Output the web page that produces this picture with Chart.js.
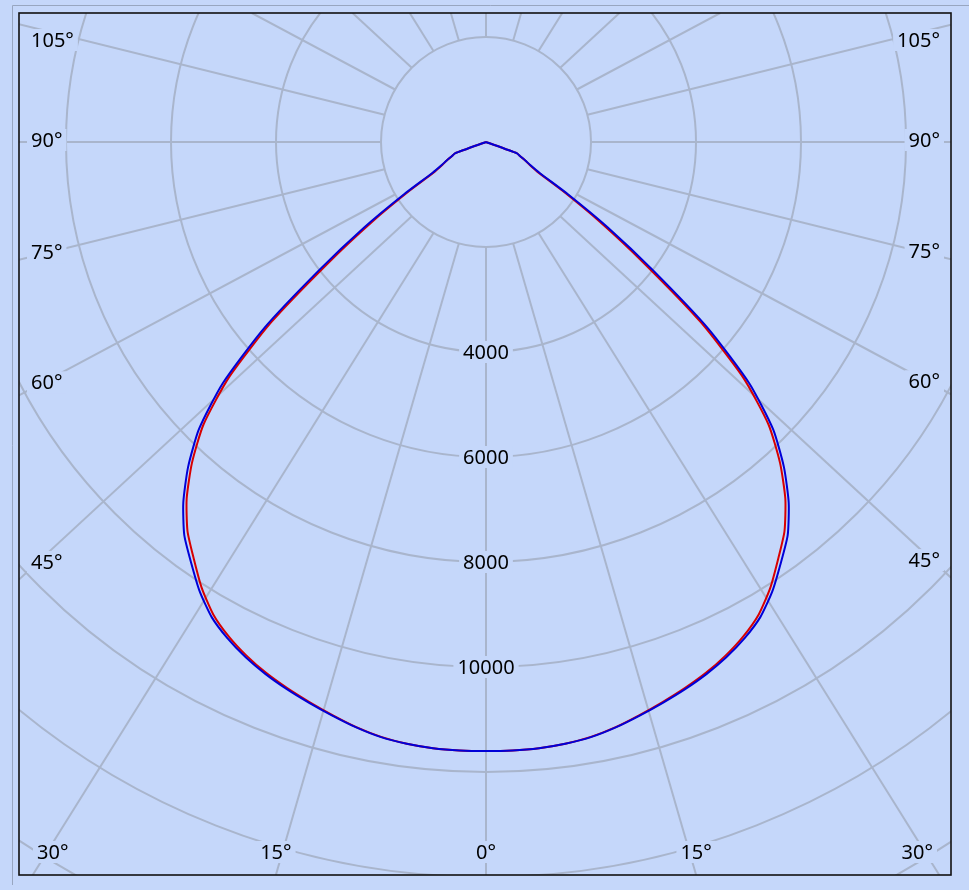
<!DOCTYPE html>
<html>
<head>
<meta charset="utf-8">
<title>Luminous intensity distribution</title>
<script src="https://cdn.jsdelivr.net/npm/chart.js@4.4.1/dist/chart.umd.min.js"></script>
<style>
  html, body { margin: 0; padding: 0; background: #c5d7fa; }
  canvas { display: block; }
</style>
</head>
<body>
<canvas id="ldcChart" width="969" height="890"></canvas>
<script>
// gamma angles in degrees, negative = left half of the plane
const angles = [-75, -72.5, -70, -67.5, -65, -62.5, -60, -57.5, -55, -52.5, -50, -47.5, -45, -42.5, -40, -37.5,
  -35, -32.5, -30, -27.5, -25, -22.5, -20, -17.5, -15, -12.5, -10, -7.5, -5, -2.5,
  0,
  2.5, 5, 7.5, 10, 12.5, 15, 17.5, 20, 22.5, 25, 27.5, 30, 32.5, 35, 37.5,
  40, 42.5, 45, 47.5, 50, 52.5, 55, 57.5, 60, 62.5, 65, 67.5, 70, 72.5, 75];

// intensities in cd
const planeBlue = [0, 0, 630, 700, 820, 950, 1180, 1850, 2820, 4000, 5520, 6800, 7730, 8400, 8970, 9440,
  9790, 10150, 10450, 10660, 10830, 10970, 11090, 11200, 11310, 11420, 11510, 11560, 11590, 11600,
  11600,
  11600, 11590, 11560, 11510, 11420, 11310, 11200, 11090, 10970, 10830, 10660, 10450, 10150, 9790, 9440,
  8970, 8400, 7730, 6800, 5520, 4000, 2820, 1850, 1180, 950, 820, 700, 630, 0, 0];
const planeRed = [0, 0, 630, 700, 820, 930, 1120, 1730, 2640, 3800, 5340, 6650, 7610, 8290, 8870, 9340,
  9700, 10075, 10390, 10615, 10795, 10945, 11070, 11185, 11300, 11415, 11505, 11560, 11590, 11600,
  11600,
  11600, 11590, 11560, 11505, 11415, 11300, 11185, 11070, 10945, 10795, 10615, 10390, 10075, 9700, 9340,
  8870, 8290, 7610, 6650, 5340, 3800, 2640, 1730, 1120, 930, 820, 700, 630, 0, 0];

const ringValues = [2000, 4000, 6000, 8000, 10000, 12000, 14000, 16000, 18000];
const ringLabels = [4000, 6000, 8000, 10000];
const spokeAngles = [0, 15, 30, 45, 60, 75, 90, 105, 120, 135, 150, 165, 180,
  -165, -150, -135, -120, -105, -90, -75, -60, -45, -30, -15];
const angleLabels = [0, 15, 30, 45, 60, 75, 90, 105];

const BG = "#c5d7fa";
const GRID = "#a9b5cc";
const FONT = "20px 'Noto Sans', sans-serif";

// 105 px for every 2000 cd, pole at (486, 142)
const pxPerCd = 105 / 2000;
const pad = { left: 19, top: 13, right: 18, bottom: 15 };
const pole = { x: 486, y: 142 };

const toXY = (vals) => angles.map((a, i) => {
  const t = a * Math.PI / 180;
  return { x: vals[i] * Math.sin(t), y: -vals[i] * Math.cos(t) };
});

function labelBox(ctx, text, x, y, align) {
  ctx.font = FONT;
  const w = ctx.measureText(text).width;
  let left = x - w / 2;
  if (align === "left") left = x;
  if (align === "right") left = x - w;
  ctx.fillStyle = BG;
  ctx.fillRect(left - 4, y - 11, w + 8, 22);
  ctx.fillStyle = "#000";
  ctx.textAlign = "left";
  ctx.textBaseline = "middle";
  ctx.fillText(text, left, y + 1);
}

const polarGrid = {
  id: "polarGrid",
  beforeDraw(chart) {
    const ctx = chart.ctx;
    ctx.save();
    ctx.fillStyle = BG;
    ctx.fillRect(0, 0, chart.width, chart.height);
    ctx.strokeStyle = "#98a6c0";
    ctx.lineWidth = 1;
    ctx.beginPath();
    ctx.moveTo(12.5, 885);
    ctx.lineTo(12.5, 5.5);
    ctx.lineTo(chart.width, 5.5);
    ctx.stroke();
    ctx.restore();
  },
  beforeDatasetsDraw(chart) {
    const ctx = chart.ctx;
    const area = chart.chartArea;
    const xs = chart.scales.x, ys = chart.scales.y;
    const cx = xs.getPixelForValue(0), cy = ys.getPixelForValue(0);
    const unit = (xs.getPixelForValue(1000) - cx) / 1000;
    const k = area.width / area.height;
    const r0 = ringValues[0] * unit;

    ctx.save();
    ctx.beginPath();
    ctx.rect(area.left, area.top, area.width, area.height);
    ctx.clip();
    ctx.strokeStyle = GRID;
    ctx.lineWidth = 2;

    ringValues.forEach(v => {
      ctx.beginPath();
      ctx.arc(cx, cy, v * unit, 0, Math.PI * 2);
      ctx.stroke();
    });

    const hits = {};
    spokeAngles.forEach(a => {
      const t = a * Math.PI / 180;
      const p0 = { x: cx + r0 * Math.sin(t), y: cy + r0 * Math.cos(t) };
      const d = { x: k * Math.sin(t), y: Math.cos(t) };
      let best = Infinity, edge = null;
      if (d.x < -1e-9) { const s = (area.left - p0.x) / d.x; if (s < best) { best = s; edge = "left"; } }
      if (d.x > 1e-9) { const s = (area.right - p0.x) / d.x; if (s < best) { best = s; edge = "right"; } }
      if (d.y > 1e-9) { const s = (area.bottom - p0.y) / d.y; if (s < best) { best = s; edge = "bottom"; } }
      if (d.y < -1e-9) { const s = (area.top - p0.y) / d.y; if (s < best) { best = s; edge = "top"; } }
      ctx.beginPath();
      ctx.moveTo(p0.x, p0.y);
      ctx.lineTo(p0.x + d.x * best, p0.y + d.y * best);
      ctx.stroke();
      hits[a] = { x: p0.x + d.x * best, y: p0.y + d.y * best, edge: edge, cos: Math.cos(t) };
    });

    // angle labels where the spokes leave the frame
    angleLabels.forEach(a => {
      [a, -a].forEach((s, j) => {
        if (a === 0 && j === 1) return;
        const h = hits[s];
        const text = a + "°";
        ctx.font = FONT;
        const w = ctx.measureText(text).width;
        if (h.edge === "bottom") {
          const x = Math.min(Math.max(h.x, area.left + 18 + w / 2), area.right - 18 - w / 2);
          labelBox(ctx, text, x, area.bottom - 23, "center");
        } else {
          let y = h.y - 22 * h.cos - 2;
          y = Math.min(Math.max(y, area.top + 27), area.bottom - 27);
          if (h.edge === "left") labelBox(ctx, text, area.left + 12, y, "left");
          else labelBox(ctx, text, area.right - 11, y, "right");
        }
      });
    });

    ringLabels.forEach(v => {
      labelBox(ctx, String(v), cx, ys.getPixelForValue(-v), "center");
    });
    ctx.restore();
  },
  afterDraw(chart) {
    const ctx = chart.ctx;
    const area = chart.chartArea;
    ctx.save();
    ctx.strokeStyle = "#111";
    ctx.lineWidth = 1.6;
    ctx.strokeRect(area.left, area.top, area.width, area.height);
    ctx.restore();
  }
};

const chartW = 969 - pad.left - pad.right;
const chartH = 890 - pad.top - pad.bottom;

new Chart(document.getElementById("ldcChart").getContext("2d"), {
  type: "scatter",
  data: {
    datasets: [
      {
        label: "C90 - C270",
        data: toXY(planeBlue),
        showLine: true,
        borderColor: "#0000d8",
        borderWidth: 2,
        pointRadius: 0,
        tension: 0.2
      },
      {
        label: "C0 - C180",
        data: toXY(planeRed),
        showLine: true,
        borderColor: "#d80000",
        borderWidth: 2,
        pointRadius: 0,
        tension: 0.2
      }
    ]
  },
  options: {
    responsive: false,
    devicePixelRatio: 1,
    animation: false,
    layout: { padding: pad },
    plugins: { legend: { display: false }, tooltip: { enabled: false } },
    scales: {
      x: {
        display: false,
        min: -(pole.x - pad.left) / pxPerCd,
        max: (pad.left + chartW - pole.x) / pxPerCd
      },
      y: {
        display: false,
        min: -(pad.top + chartH - pole.y) / pxPerCd,
        max: (pole.y - pad.top) / pxPerCd
      }
    }
  },
  plugins: [polarGrid]
});
</script>
</body>
</html>
